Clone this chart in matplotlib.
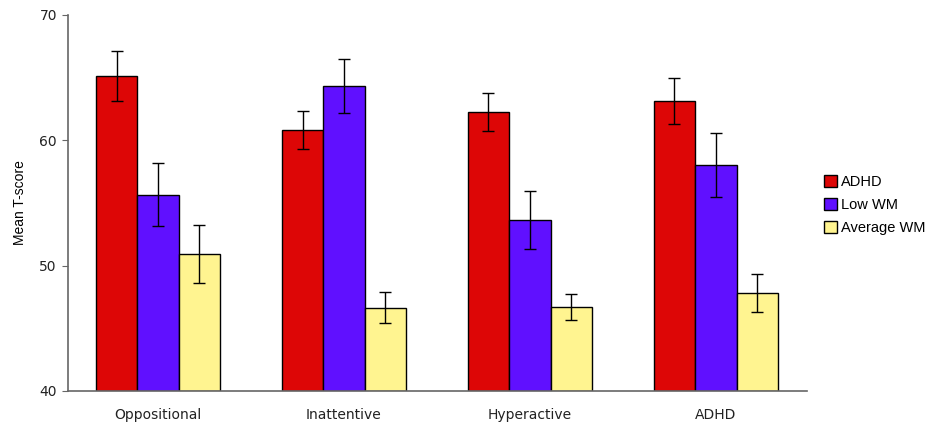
import matplotlib.pyplot as plt
import numpy as np

# mean T-scores per rating scale, by group
scales = ['Oppositional', 'Inattentive', 'Hyperactive', 'ADHD']
groups = ['ADHD', 'Low WM', 'Average WM']
means = {
    'ADHD': [65.1, 60.8, 62.25, 63.15],
    'Low WM': [55.65, 64.35, 53.65, 58.05],
    'Average WM': [50.95, 46.65, 46.7, 47.8],
}
errs = {
    'ADHD': [2.0, 1.5, 1.5, 1.85],
    'Low WM': [2.5, 2.15, 2.3, 2.55],
    'Average WM': [2.3, 1.25, 1.0, 1.5],
}
colors = ['#dd0606', '#6010ff', '#fff490']

fig = plt.figure(figsize=(9.29, 4.25), dpi=100)
ax = fig.add_axes([0.0732, 0.08, 0.7955, 0.885])

x = np.arange(len(scales))
w = 0.223
for i, g in enumerate(groups):
    ax.bar(x + (i - 1) * w, np.array(means[g]) - 40, w, bottom=40,
           color=colors[i], edgecolor='black', linewidth=1.0, label=g,
           yerr=errs[g], error_kw=dict(ecolor='black', elinewidth=1.0,
                                        capsize=4, capthick=1.0))

ax.set_xlim(-0.484, 3.49)
ax.set_ylim(40, 70)
ax.set_yticks([40, 50, 60, 70])
ax.set_xticks(x)
ax.set_xticklabels(scales, fontsize=10, family='DejaVu Sans', color='#222222')
ax.tick_params(axis='x', length=0, pad=12)
ax.tick_params(axis='y', length=4, color='#666666', labelsize=10, pad=4,
               labelcolor='#222222')
for lab in ax.get_yticklabels():
    lab.set_family('DejaVu Sans')
ax.set_ylabel('Mean T-score', fontsize=10, family='Liberation Sans', labelpad=9)

for s in ['top', 'right']:
    ax.spines[s].set_visible(False)
for s in ['left', 'bottom']:
    ax.spines[s].set_color('#666666')
    ax.spines[s].set_linewidth(1.2)

ax.legend(loc='center left', bbox_to_anchor=(1.005, 0.495), frameon=False,
          prop={'family': 'Liberation Sans', 'size': 10.5},
          handlelength=0.9, handleheight=0.9, handletextpad=0.3,
          labelspacing=0.6)

fig.savefig('out.png', dpi=100)
